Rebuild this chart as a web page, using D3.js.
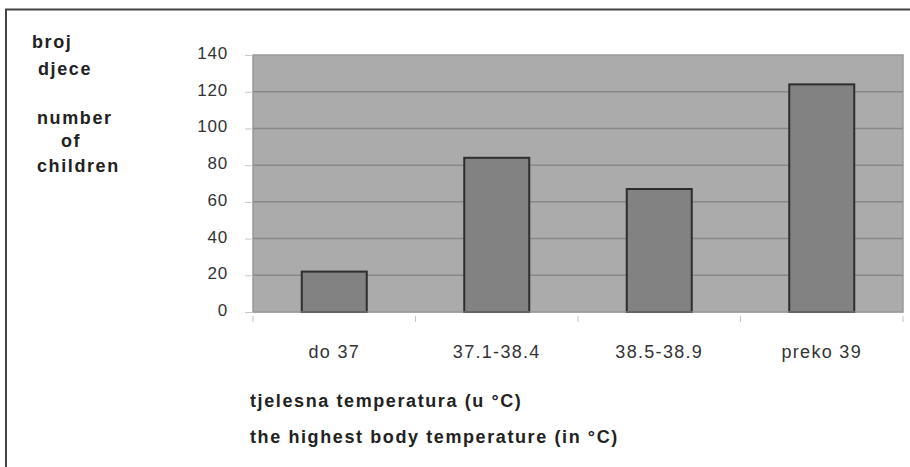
<!DOCTYPE html>
<html>
<head>
<meta charset="utf-8">
<script src="https://cdn.jsdelivr.net/npm/d3@7"></script>
<style>
  body { margin: 0; background: #fff; }
  svg text { font-family: "Liberation Sans", Arial, sans-serif; fill: #222; }
</style>
</head>
<body>
<div id="chart"></div>
<script>
// data
const categories = ["do 37", "37.1-38.4", "38.5-38.9", "preko 39"];
const children = [22, 84, 67, 124];
const yTicks = [0, 20, 40, 60, 80, 100, 120, 140];
const yLabelLines = ["broj", "djece", "number", "of", "children"];
const xLabelLines = ["tjelesna temperatura (u °C)", "the highest body temperature (in °C)"];

const W = 910, H = 467;
const margin = { top: 55, right: 7, bottom: 155, left: 253 },
    width = W - margin.left - margin.right,
    height = H - margin.top - margin.bottom;

const root = d3.select("#chart")
    .append("svg")
    .attr("width", W)
    .attr("height", H);

// outer frame (only top and left edges show in the picture)
root.append("path")
    .attr("d", `M6,${H} L6,9.5 L${W},9.5`)
    .attr("fill", "none")
    .attr("stroke", "#444")
    .attr("stroke-width", 2);

const svg = root.append("g")
    .attr("transform", `translate(${margin.left}, ${margin.top})`);

const x = d3.scaleBand()
    .domain(categories)
    .range([0, width])
    .paddingInner(0.6)
    .paddingOuter(0.3);

// band boundaries for the category tick marks
const step = width / categories.length;

const y = d3.scaleLinear()
    .domain([0, 140])
    .range([height, 0]);

// plot background
svg.append("rect")
    .attr("width", width)
    .attr("height", height)
    .attr("fill", "#ababab")
    .attr("stroke", "#999")
    .attr("stroke-width", 1.5);

// left ticks
const yAxis = svg.append("g")
    .call(d3.axisLeft(y).tickValues(yTicks).tickSize(8).tickFormat(""));
yAxis.select(".domain").remove();
yAxis.selectAll(".tick line").attr("stroke", "#c8c8c8");

// gridlines
svg.append("g")
    .selectAll("line")
    .data(yTicks.filter(d => d > 0 && d < 140))
    .join("line")
    .attr("x1", 0)
    .attr("x2", width)
    .attr("y1", d => y(d))
    .attr("y2", d => y(d))
    .attr("stroke", "#888")
    .attr("stroke-width", 1.5);

// y tick labels
svg.append("g")
    .selectAll("text")
    .data(yTicks)
    .join("text")
    .attr("x", -25)
    .attr("y", d => y(d) + 4)
    .attr("text-anchor", "end")
    .style("font-size", "17px")
    .style("letter-spacing", "0.8px")
    .style("fill", "#333")
    .text(d => d);

// bars
svg.selectAll("rect.bar")
    .data(children)
    .join("rect")
    .attr("class", "bar")
    .attr("x", (d, i) => x(categories[i]))
    .attr("y", d => y(d))
    .attr("width", x.bandwidth())
    .attr("height", d => height - y(d))
    .attr("fill", "#828282")
    .attr("stroke", "#2e2e2e")
    .attr("stroke-width", 2);

// bottom axis line and category ticks
svg.append("line")
    .attr("x1", 0).attr("x2", width)
    .attr("y1", height).attr("y2", height)
    .attr("stroke", "#9a9a9a");

svg.append("g")
    .selectAll("line")
    .data(d3.range(categories.length + 1))
    .join("line")
    .attr("x1", i => i * step)
    .attr("x2", i => i * step)
    .attr("y1", height + 4)
    .attr("y2", height + 10)
    .attr("stroke", "#c4c4c4");

// category labels
svg.append("g")
    .selectAll("text")
    .data(categories)
    .join("text")
    .attr("x", d => x(d) + x.bandwidth() / 2)
    .attr("y", height + 46)
    .attr("text-anchor", "middle")
    .style("font-size", "18px")
    .style("letter-spacing", "1.3px")
    .style("fill", "#333")
    .text(d => d);

// x title lines
root.append("g")
    .selectAll("text")
    .data(xLabelLines)
    .join("text")
    .attr("x", 250)
    .attr("y", (d, i) => 407 + i * 36)
    .style("font-size", "18px")
    .style("font-weight", "bold")
    .style("letter-spacing", "1.6px")
    .text(d => d);

// y title lines
const yLabelPos = [[32, 48], [38, 75], [37, 124], [61, 147], [37, 172]];
root.append("g")
    .selectAll("text")
    .data(yLabelLines)
    .join("text")
    .attr("x", (d, i) => yLabelPos[i][0])
    .attr("y", (d, i) => yLabelPos[i][1])
    .style("font-size", "18px")
    .style("font-weight", "bold")
    .style("letter-spacing", "1.6px")
    .text(d => d);
</script>
</body>
</html>
